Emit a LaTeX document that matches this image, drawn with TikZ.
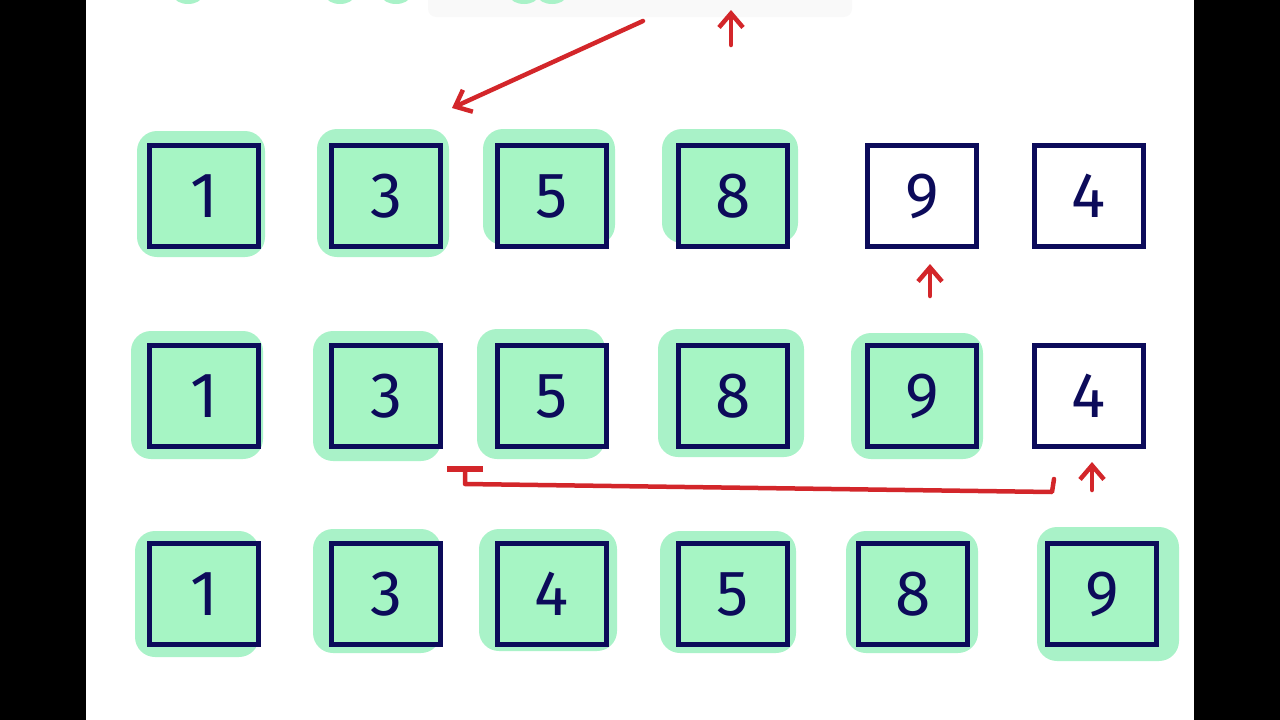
\documentclass[tikz,border=0pt]{standalone}
\usepackage{fontspec}
\setmainfont{Fira Sans}
\usetikzlibrary{calc,arrows.meta}
\definecolor{navy}{HTML}{0C0B5A}
\definecolor{boxgreen}{HTML}{A6F5C4}
\definecolor{blobgreen}{HTML}{A9F2C8}
\definecolor{redpen}{HTML}{D3262A}
\tikzset{
  cell/.style={draw=navy, line width=5pt, minimum width=109pt, minimum height=101pt,
    inner sep=0pt, font=\fontsize{64}{64}\selectfont, text=navy},
  done/.style={cell, fill=boxgreen},
  todo/.style={cell, fill=white},
  pen/.style={draw=redpen, line width=4.5pt, line cap=round, line join=round},
  penarrow/.style={pen, -{Straight Barb[length=14pt, width=24pt, line width=4.5pt]}},
}
\newcommand{\blob}[5]{% node, dx1, dy1, dx2, dy2
  \fill[blobgreen, rounded corners=20pt] ($(#1.north west)+(#2,#3)$) rectangle ($(#1.south east)+(#4,#5)$);}
\pgfdeclarelayer{bg}
\pgfsetlayers{bg,main}
\begin{document}
\begin{tikzpicture}[x=1pt,y=-1pt]
\useasboundingbox (0,0) rectangle (1280,720);
\fill[black] (0,0) rectangle (86,720);
\fill[black] (1194,0) rectangle (1280,720);
% top remnants
\fill[gray!5, rounded corners=8pt] (428,-10) rectangle (852,17);
\foreach \x in {188,340,396,524,552} \fill[blobgreen] (\x,-4) ellipse (14pt and 8pt);
% nodes
\node[done] (a1) at (204,196) {1};
\node[done] (a2) at (386,196) {3};
\node[done] (a3) at (552,196) {5};
\node[done] (a4) at (733,196) {8};
\node[todo] (a5) at (922,196) {9};
\node[todo] (a6) at (1089,196) {4};
\node[done] (b1) at (204,396) {1};
\node[done] (b2) at (386,396) {3};
\node[done] (b3) at (552,396) {5};
\node[done] (b4) at (733,396) {8};
\node[done] (b5) at (922,396) {9};
\node[todo] (b6) at (1089,396) {4};
\node[done] (c1) at (204,594) {1};
\node[done] (c2) at (386,594) {3};
\node[done] (c3) at (552,594) {4};
\node[done] (c4) at (733,594) {5};
\node[done] (c5) at (913,594) {8};
\node[done] (c6) at (1102,594) {9};
% blobs behind
\begin{pgfonlayer}{bg}
\blob{a1}{-10}{-12}{4}{8}
\blob{a2}{-12}{-14}{6}{8}
\blob{a3}{-12}{-14}{6}{-4}
\blob{a4}{-14}{-14}{8}{-6}
\blob{b1}{-16}{-12}{2}{10}
\blob{b2}{-16}{-12}{-2}{12}
\blob{b3}{-18}{-14}{-4}{10}
\blob{b4}{-18}{-14}{14}{8}
\blob{b5}{-14}{-10}{4}{10}
\blob{c1}{-12}{-10}{-2}{10}
\blob{c2}{-16}{-12}{-2}{6}
\blob{c3}{-16}{-12}{8}{4}
\blob{c4}{-16}{-10}{6}{6}
\blob{c5}{-10}{-10}{8}{6}
\blob{c6}{-8}{-14}{20}{14}
\end{pgfonlayer}
% red pen marks
\coordinate (p1) at (643,21);
\coordinate (p2) at (452,108);
\draw[penarrow] (p1) -- (p2);
\coordinate (q1) at (731,45);
\coordinate (q2) at (731,10);
\draw[penarrow] (q1) -- (q2);
\coordinate (r1) at (930,296);
\coordinate (r2) at (930,264);
\draw[penarrow] (r1) -- (r2);
\coordinate (s1) at (1092,490);
\coordinate (s2) at (1092,462);
\draw[penarrow] (s1) -- (s2);
\coordinate (t1) at (1054,479);
\coordinate (t2) at (1052,492);
\coordinate (t3) at (465,484);
\coordinate (t4) at (465,466);
\draw[pen, -{Bar[width=36pt, line width=6pt]}] (t1) -- (t2) -- (t3) -- (t4);
\end{tikzpicture}
\end{document}
